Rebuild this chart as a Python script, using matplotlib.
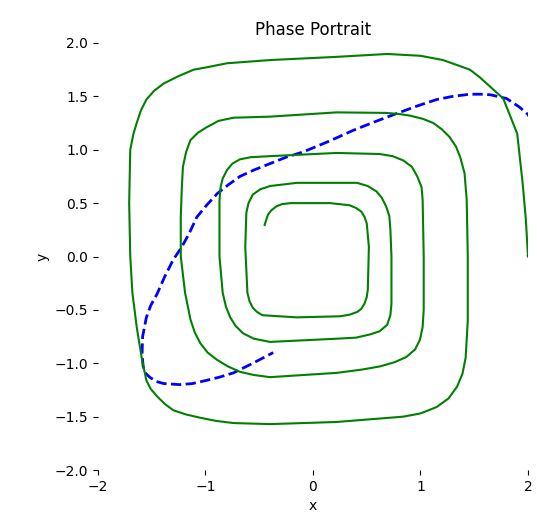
import matplotlib
matplotlib.use("Agg")
import matplotlib.pyplot as plt

# Green solid trajectory (outer start at (2, 0) spiralling inward)
spiral_x = [2.00, 1.98, 1.95, 1.90, 1.77, 1.55, 1.46, 1.21, 1.00, 0.69, 0.22, -0.40,
            -0.80, -1.00, -1.11, -1.25, -1.39, -1.48, -1.55, -1.60, -1.64, -1.67, -1.70,
            -1.71, -1.70, -1.68, -1.64,
            -1.59, -1.55, -1.51, -1.45, -1.38, -1.30, -1.18, -1.05, -0.90, -0.74, -0.40,
            0.22, 0.84, 1.00, 1.15, 1.26, 1.34, 1.39, 1.42, 1.44, 1.44,
            1.43, 1.41, 1.37, 1.33, 1.27, 1.20, 1.12, 1.02, 0.90, 0.80, 0.68, 0.22,
            -0.40, -0.74, -0.88, -0.99, -1.07, -1.14, -1.18, -1.21, -1.22, -1.23, -1.23,
            -1.19, -1.14, -1.10, -1.05, -0.98, -0.89, -0.79, -0.68, -0.55, -0.40, 0.22,
            0.45, 0.62, 0.76, 0.87, 0.95, 0.995, 1.02, 1.03, 1.03,
            1.02, 1.01, 0.97, 0.92, 0.84, 0.74, 0.62, 0.22, -0.40, -0.58, -0.68, -0.75,
            -0.80, -0.84, -0.86, -0.87, -0.87, -0.87,
            -0.84, -0.81, -0.77, -0.72, -0.65, -0.55, -0.40, 0.22, 0.40, 0.53, 0.62,
            0.69, 0.72, 0.73, 0.73,
            0.72, 0.71, 0.68, 0.64, 0.59, 0.51, 0.41, -0.15, -0.40, -0.49, -0.56, -0.60,
            -0.62, -0.63, -0.61, -0.59, -0.56, -0.52, -0.47, -0.15, 0.25, 0.34, 0.41,
            0.45, 0.48, 0.50, 0.51, 0.52, 0.50, 0.48, 0.45, 0.40, 0.34, 0.16,
            -0.21, -0.29, -0.34, -0.39, -0.42, -0.45]
spiral_y = [0.00, 0.35, 0.69, 1.15, 1.48, 1.68, 1.75, 1.84, 1.88, 1.897, 1.87, 1.84,
            1.81, 1.77, 1.75, 1.69, 1.62, 1.55, 1.47, 1.37, 1.25, 1.15, 1.00,
            0.50, 0.00, -0.34, -0.66,
            -0.97, -1.16, -1.24, -1.31, -1.38, -1.44, -1.48, -1.51, -1.54, -1.56, -1.57,
            -1.55, -1.50, -1.47, -1.41, -1.33, -1.22, -1.10, -0.95, -0.60, 0.00,
            0.53, 0.78, 0.93, 1.03, 1.12, 1.19, 1.25, 1.29, 1.32, 1.335, 1.345, 1.35,
            1.31, 1.30, 1.27, 1.21, 1.16, 1.09, 0.98, 0.84, 0.65, 0.37, 0.00,
            -0.34, -0.59, -0.71, -0.81, -0.90, -0.97, -1.03, -1.08, -1.11, -1.13, -1.09,
            -1.06, -1.03, -0.99, -0.94, -0.87, -0.78, -0.66, -0.50, 0.00,
            0.53, 0.65, 0.75, 0.84, 0.90, 0.94, 0.96, 0.97, 0.94, 0.93, 0.91, 0.87,
            0.81, 0.73, 0.65, 0.52, 0.37, 0.00,
            -0.34, -0.47, -0.57, -0.65, -0.72, -0.77, -0.80, -0.77, -0.76, -0.73, -0.70,
            -0.64, -0.55, -0.44, 0.00,
            0.25, 0.38, 0.47, 0.55, 0.61, 0.66, 0.69, 0.69, 0.66, 0.63, 0.58, 0.50,
            0.41, 0.09, -0.34, -0.42, -0.48, -0.52, -0.55, -0.57, -0.56, -0.545, -0.52,
            -0.49, -0.44, -0.38, -0.31, 0.09, 0.31, 0.37, 0.42, 0.455, 0.48, 0.50,
            0.50, 0.49, 0.47, 0.43, 0.39, 0.295]

# Blue dashed trajectory (partly outside the x-range, clipped by the axes)
curve_x = [2.00, 2.12, 2.15, 2.08, 2.00, 1.92, 1.80, 1.65, 1.56, 1.46, 1.30, 1.15,
           0.97, 0.78, 0.57, 0.37, 0.15, -0.09, -0.25, -0.40, -0.55, -0.68, -0.79,
           -0.89, -0.99, -1.08, -1.15, -1.22, -1.30, -1.38, -1.45, -1.51, -1.55,
           -1.585, -1.59, -1.58, -1.56, -1.52, -1.46, -1.39, -1.24, -1.12, -0.99,
           -0.87, -0.74, -0.56, -0.37]
curve_y = [0.00, 0.45, 0.90, 1.20, 1.33, 1.40, 1.48, 1.515, 1.52, 1.52, 1.50, 1.47,
           1.41, 1.34, 1.26, 1.18, 1.08, 0.98, 0.93, 0.87, 0.81, 0.75, 0.67,
           0.59, 0.48, 0.37, 0.22, 0.09, -0.03, -0.19, -0.35, -0.46, -0.57,
           -0.75, -0.91, -1.03, -1.09, -1.13, -1.17, -1.19, -1.20, -1.19, -1.16,
           -1.13, -1.09, -1.00, -0.90]

x_ticks = [-2, -1, 0, 1, 2]
y_ticks = [-2.0, -1.5, -1.0, -0.5, 0.0, 0.5, 1.0, 1.5, 2.0]

fig = plt.figure(figsize=(5.37, 5.28), dpi=100)
ax = fig.add_axes([0.1825, 0.1098, 0.8007, 0.8088])
ax.plot(curve_x, curve_y, color="blue", linestyle="--", linewidth=2)
ax.plot(spiral_x, spiral_y, color="green", linewidth=1.5)
ax.set_xlim(-2, 2)
ax.set_ylim(-2, 2)
ax.set_xticks(x_ticks)
ax.set_yticks(y_ticks)
for s in ax.spines.values():
    s.set_visible(False)
ax.set_xlabel("x")
ax.set_ylabel("y")
ax.set_title("Phase Portrait")
fig.savefig("out.png", dpi=100)
